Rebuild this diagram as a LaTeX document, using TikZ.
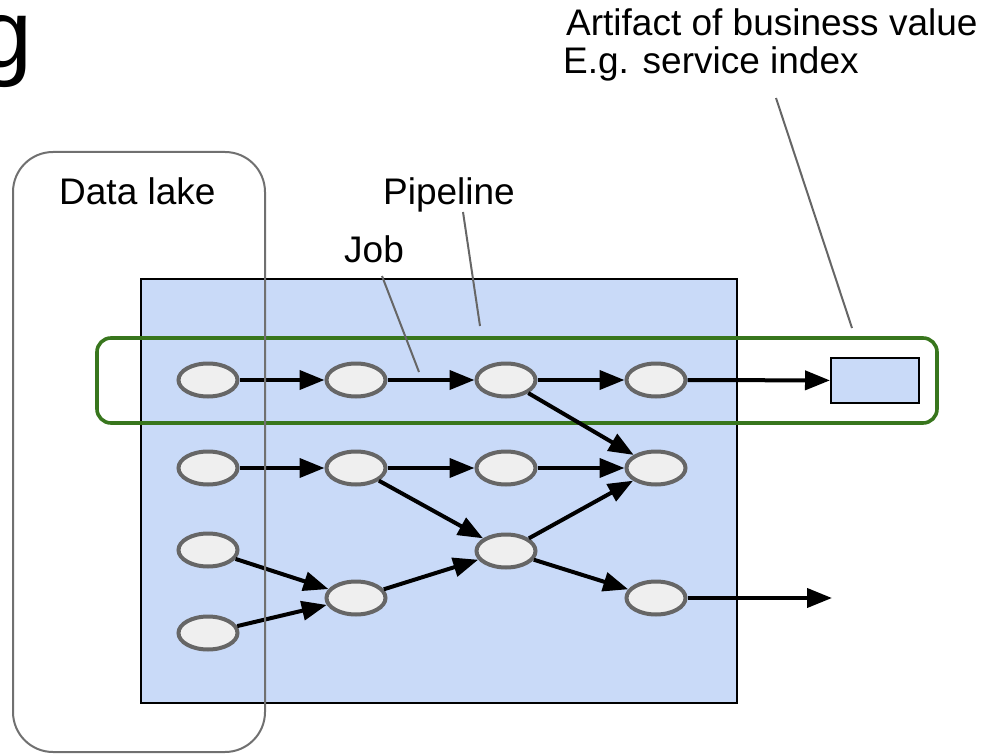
\documentclass[tikz,border=0pt]{standalone}
\usepackage{fontspec}
\setmainfont{Liberation Sans}
\usetikzlibrary{arrows.meta,shapes.geometric}
\definecolor{paneblue}{HTML}{C9DAF8}
\definecolor{jobgreen}{HTML}{38761D}
\definecolor{stepfill}{HTML}{EFEFEF}
\definecolor{stepline}{HTML}{666666}
\definecolor{lakeline}{HTML}{707070}
\tikzset{
  lbl/.style={inner sep=0pt, font=\fontsize{37}{38}\selectfont, anchor=base west},
  stepnode/.style={ellipse, draw=stepline, line width=4pt, fill=stepfill,
    minimum width=59pt, minimum height=33pt, inner sep=0pt},
  flow/.style={line width=4pt, -{Triangle[length=25pt,width=19pt]}},
  leader/.style={draw=stepline, line width=2pt},
}
\begin{document}
\begin{tikzpicture}[x=1pt,y=-1pt]
\useasboundingbox (0,0) rectangle (996,754);

% large partial heading letter at the left edge
\node[inner sep=0pt, anchor=base west, font=\fontsize{97}{100}\selectfont] (heading) at (-22,68) {g};

% pipeline area
\draw[fill=paneblue, line width=2pt] (141,279) rectangle (737,703);

% job outline
\draw[jobgreen, line width=3.6pt, rounded corners=14pt] (97,338) rectangle (937,423);

% steps
\node[stepnode] (a1) at (208,380) {};
\node[stepnode] (a2) at (356,380) {};
\node[stepnode] (a3) at (506,380) {};
\node[stepnode] (a4) at (656,380) {};
\node[stepnode] (b1) at (208,468) {};
\node[stepnode] (b2) at (356,468) {};
\node[stepnode] (b3) at (506,468) {};
\node[stepnode] (b4) at (656,468) {};
\node[stepnode] (c1) at (208,550) {};
\node[stepnode] (c3) at (506,551) {};
\node[stepnode] (d2) at (356,598) {};
\node[stepnode] (d4) at (656,598) {};
\node[stepnode] (e1) at (208,633) {};

% business artifact
\node[draw, line width=2pt, fill=paneblue, minimum width=88pt, minimum height=45pt, inner sep=0pt] (artifact) at (875,380.5) {};

\coordinate (outend) at (832,598);

% data flow
\draw[flow] (a1) -- (a2);
\draw[flow] (a2) -- (a3);
\draw[flow] (a3) -- (a4);
\draw[flow] (a4) -- (artifact);
\draw[flow] (a3) -- (b4);
\draw[flow] (b1) -- (b2);
\draw[flow] (b2) -- (b3);
\draw[flow] (b3) -- (b4);
\draw[flow] (b2) -- (c3);
\draw[flow] (c3) -- (b4);
\draw[flow] (c3) -- (d4);
\draw[flow] (c1) -- (d2);
\draw[flow] (e1) -- (d2);
\draw[flow] (d2) -- (c3);
\draw[flow] (d4) -- (outend);

% data lake outline
\draw[lakeline, line width=2pt, rounded corners=40pt] (13,152) rectangle (265,752);

% labels
\node[lbl] (datalake) at (59,205) {Data lake};
\node[lbl] (pipeline) at (383,205) {Pipeline};
\node[lbl] (job) at (344,262) {Job};
\node[lbl] (artifact1) at (566,36) {Artifact of business value};
\node[lbl] (artifact2) at (563,74) {E.g. service index};

% leader lines
\coordinate (pipetip) at (463,212);
\coordinate (pipeend) at (480,326);
\coordinate (jobtip) at (382,276);
\coordinate (jobend) at (419,372);
\coordinate (arttip) at (776,98);
\coordinate (artend) at (852,328);
\draw[leader] (pipetip) -- (pipeend);
\draw[leader] (jobtip) -- (jobend);
\draw[leader] (arttip) -- (artend);
\end{tikzpicture}
\end{document}
